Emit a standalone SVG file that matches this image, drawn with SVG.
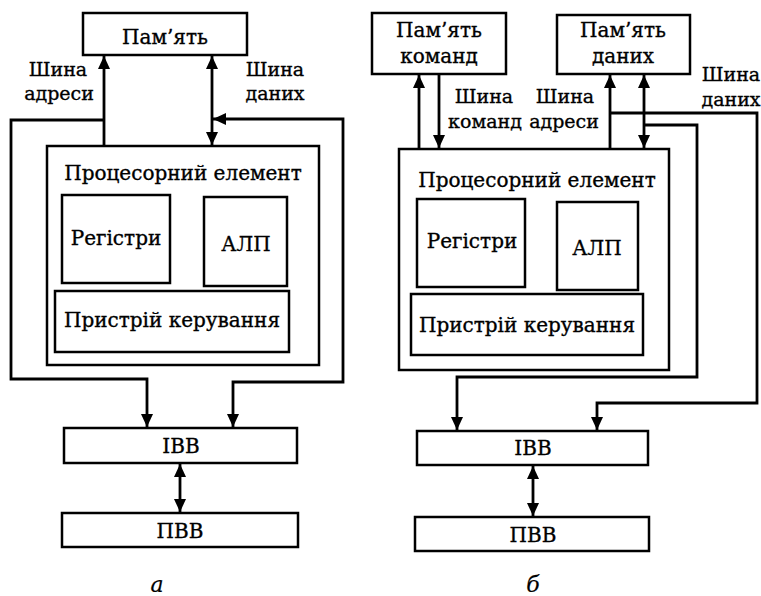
<svg xmlns="http://www.w3.org/2000/svg" width="761" height="596" viewBox="0 0 761 596">
<style>
.box{fill:none;stroke:#000;stroke-width:2.5}
.c{fill:none;stroke:#000;stroke-width:2.8}
text{font-family:"DejaVu Serif","Liberation Serif",serif;font-size:20px;fill:#000;stroke:#000;stroke-width:0.35;text-anchor:middle}
.bus{font-size:19px}
.cap{font-style:italic;font-size:22px;stroke-width:0.2}
</style>
<defs>
<marker id="ah" markerUnits="userSpaceOnUse" markerWidth="14" markerHeight="12" refX="13" refY="6" orient="auto-start-reverse">
<path d="M0,0 L13,6 L0,12 z" fill="#000"/>
</marker>
</defs>
<rect width="761" height="596" fill="#fff"/>

<!-- Diagram a -->
<g id="a-mem"><rect class="box" x="83" y="13" width="164" height="42"/><text x="165" y="44">Пам’ять</text></g>
<g id="a-pe"><rect class="box" x="47" y="146" width="272" height="219"/><text x="183" y="180">Процесорний елемент</text></g>
<g id="a-reg"><rect class="box" x="62" y="195" width="108" height="88"/><text x="116" y="245">Регістри</text></g>
<g id="a-alu"><rect class="box" x="204" y="197" width="83" height="89"/><text x="246" y="251">АЛП</text></g>
<g id="a-cu"><rect class="box" x="55" y="291" width="234" height="61"/><text x="172" y="327">Пристрій керування</text></g>
<g id="a-ibb"><rect class="box" x="64" y="428" width="233" height="35"/><text x="181" y="453">ІВВ</text></g>
<g id="a-pvv"><rect class="box" x="62" y="513" width="236" height="34"/><text x="180" y="538">ПВВ</text></g>
<g id="a-labels">
<text class="bus" x="58" y="76">Шина</text><text class="bus" x="59" y="100">адреси</text>
<text class="bus" x="275" y="76">Шина</text><text class="bus" x="275" y="100">даних</text>
<text class="cap" x="157" y="592">а</text>
</g>

<!-- Diagram b -->
<g id="b-memc"><rect class="box" x="372" y="13" width="134" height="61"/><text x="439" y="37">Пам’ять</text><text x="439" y="63">команд</text></g>
<g id="b-memd"><rect class="box" x="557" y="15" width="133" height="59"/><text x="623" y="37">Пам’ять</text><text x="623" y="63">даних</text></g>
<g id="b-pe"><rect class="box" x="399" y="149" width="270" height="221"/><text x="537" y="187">Процесорний елемент</text></g>
<g id="b-reg"><rect class="box" x="417" y="199" width="108" height="88"/><text x="472" y="248">Регістри</text></g>
<g id="b-alu"><rect class="box" x="557" y="202" width="81" height="88"/><text x="597" y="255">АЛП</text></g>
<g id="b-cu"><rect class="box" x="411" y="294" width="232" height="61"/><text x="527" y="332">Пристрій керування</text></g>
<g id="b-ibb"><rect class="box" x="417" y="431" width="231" height="34"/><text x="533" y="455">ІВВ</text></g>
<g id="b-pvv"><rect class="box" x="415" y="517" width="234" height="34"/><text x="533" y="542">ПВВ</text></g>
<g id="b-labels">
<text class="bus" x="484" y="103">Шина</text><text class="bus" x="485" y="128">команд</text>
<text class="bus" x="565" y="103">Шина</text><text class="bus" x="564" y="128">адреси</text>
<text class="bus" x="731" y="81">Шина</text><text class="bus" x="731" y="106">даних</text>
<text class="cap" x="533" y="592">б</text>
</g>

<g id="connectors">
<!-- a -->
<path class="c" d="M104,145 V56" marker-end="url(#ah)"/>
<path class="c" d="M212,56 V145" marker-start="url(#ah)" marker-end="url(#ah)"/>
<path class="c" d="M104,120 H11 V379 H147 V427" marker-end="url(#ah)"/>
<path class="c" d="M213,119 H343 V382 H233 V427" marker-start="url(#ah)" marker-end="url(#ah)"/>
<path class="c" d="M180,464 V512" marker-start="url(#ah)" marker-end="url(#ah)"/>
<!-- b -->
<path class="c" d="M419,148 V75" marker-end="url(#ah)"/>
<path class="c" d="M439,75 V148" marker-end="url(#ah)"/>
<path class="c" d="M610,149 V75" marker-end="url(#ah)"/>
<path class="c" d="M644,75 V148" marker-start="url(#ah)" marker-end="url(#ah)"/>
<path class="c" d="M610,113 H757 V403 H597 V430" marker-end="url(#ah)"/>
<path class="c" d="M644,125 H697 V377 H457 V430" marker-end="url(#ah)"/>
<path class="c" d="M533,466 V516" marker-start="url(#ah)" marker-end="url(#ah)"/>
</g>
</svg>
